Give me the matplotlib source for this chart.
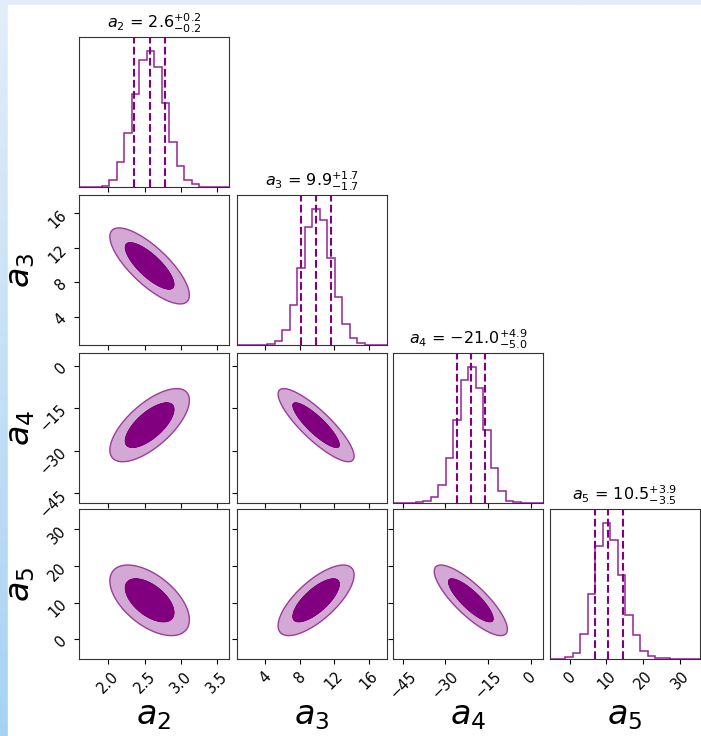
import numpy as np
import matplotlib.pyplot as plt
from matplotlib.patches import Rectangle
from matplotlib.colors import LinearSegmentedColormap

# parameter names and plot ranges
labels = ["a_2", "a_3", "a_4", "a_5"]
ranges = [(1.60, 3.66), (0.7, 18.15), (-48.4, 4.4), (-5.4, 35.5)]
ticks = [[2.0, 2.5, 3.0, 3.5], [4, 8, 12, 16], [-45, -30, -15, 0], [0, 10, 20, 30]]
tick_labels = [["2.0", "2.5", "3.0", "3.5"], ["4", "8", "12", "16"],
               ["\u221245", "\u221230", "\u221215", "0"], ["0", "10", "20", "30"]]

# 1D histograms (20 bins over each range)
hist_a2 = [0, 0, 0, 3, 20, 75, 160, 275, 378, 405, 355, 250, 135, 63, 20, 8, 0, 0, 0, 0]
hist_a3 = [0, 0, 0, 0, 3, 12, 46, 119, 230, 352, 407, 372, 259, 142, 64, 22, 6, 0, 0, 0]
hist_a4 = [0, 0, 0, 3, 5, 17, 55, 133, 247, 367, 407, 343, 217, 105, 35, 7, 2, 0, 0, 0]
hist_a5 = [0, 0, 6, 19, 76, 194, 338, 407, 355, 250, 132, 72, 25, 9, 4, 2, 0, 0, 0, 0]
hists = [hist_a2, hist_a3, hist_a4, hist_a5]

# quantiles 16 / 50 / 84 and titles
q16 = [2.36, 8.2, -26.0, 7.0]
q50 = [2.57, 9.9, -21.0, 10.5]
q84 = [2.78, 11.6, -16.1, 14.4]
titles = [r"$a_2$ = $2.6_{-0.2}^{+0.2}$", r"$a_3$ = $9.9_{-1.7}^{+1.7}$",
          r"$a_4$ = $-21.0_{-5.0}^{+4.9}$", r"$a_5$ = $10.5_{-3.5}^{+3.9}$"]

# 2D contour summaries
means = [2.57, 9.9, -21.0, 10.6]
sigmas = [0.21, 1.7, 4.95, 3.7]
corr_pairs = [(0, 1), (0, 2), (0, 3), (1, 2), (1, 3), (2, 3)]
corr_vals = [-0.77, 0.68, -0.55, -0.85, 0.72, -0.82]
levels_r = [1.65, 2.6]

dark = "#800080"
light = "#d4a8d4"

W, H = 701, 736
fig = plt.figure(figsize=(W / 100, H / 100), dpi=100)

# light blue frame behind the white canvas
bg = fig.add_axes([0, 0, 1, 1], zorder=-10)
grad = np.linspace(0, 1, 256).reshape(-1, 1)
cm = LinearSegmentedColormap.from_list("bg", ["#e2edf9", "#a6d3f4"])
bg.imshow(grad, aspect="auto", cmap=cm, extent=[0, 1, 0, 1])
bg.add_patch(Rectangle((8 / W, 0), 1, (H - 5) / H, color="white", zorder=2))
bg.set_xlim(0, 1)
bg.set_ylim(0, 1)
bg.axis("off")

lefts = [79, 237, 393, 550]
tops = [37, 195, 353, 509]
size = 150

n = 4
for i in range(n):
    for j in range(i + 1):
        ax = fig.add_axes([lefts[j] / W, (H - tops[i] - size) / H, size / W, size / H])
        for s in ax.spines.values():
            s.set_color("#333333")
        ax.set_xlim(ranges[j])
        ax.set_xticks(ticks[j])
        if i == j:
            edges = np.linspace(ranges[j][0], ranges[j][1], len(hists[j]) + 1)
            ax.stairs(hists[j], edges, color=dark, lw=1.1, alpha=0.85)
            for q in (q16[j], q50[j], q84[j]):
                ax.axvline(q, color=dark, ls="--", lw=1.5)
            ax.set_ylim(0, 1.1 * max(hists[j]))
            ax.set_yticks([])
            ax.set_title(titles[j], fontsize=11.5)
        else:
            ax.set_ylim(ranges[i])
            ax.set_yticks(ticks[i])
            x = np.linspace(ranges[j][0], ranges[j][1], 300)
            y = np.linspace(ranges[i][0], ranges[i][1], 300)
            X, Y = np.meshgrid(x, y)
            rho = corr_vals[corr_pairs.index((j, i))]
            zx = (X - means[j]) / sigmas[j]
            zy = (Y - means[i]) / sigmas[i]
            d2 = (zx ** 2 - 2 * rho * zx * zy + zy ** 2) / (1 - rho ** 2)
            ax.contourf(X, Y, d2, levels=[0, levels_r[0] ** 2, levels_r[1] ** 2],
                        colors=[dark, light], antialiased=True)
            ax.contour(X, Y, d2, levels=[levels_r[1] ** 2], colors=["#9b3c9b"], linewidths=1.0)

        if i == n - 1:
            ax.set_xticklabels(tick_labels[j], rotation=45, fontsize=10.5)
            ax.set_xlabel("$" + labels[j] + "$", fontsize=24)
            ax.xaxis.set_label_coords(0.5, -0.27)
        else:
            ax.set_xticklabels([])
        if j == 0 and i > 0:
            ax.set_yticklabels(tick_labels[i], rotation=45, fontsize=10.5)
            ax.set_ylabel("$" + labels[i] + "$", fontsize=24)
            ax.yaxis.set_label_coords(-0.28, 0.5)
        elif i != j:
            ax.set_yticklabels([])

fig.savefig("out.png", dpi=100)
